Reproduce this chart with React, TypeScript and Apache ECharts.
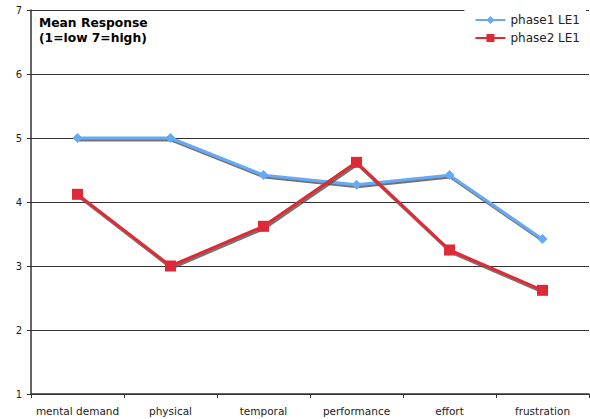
import React, { useEffect, useRef } from "react";
import * as echarts from "echarts";

const categories = ["mental demand", "physical", "temporal", "performance", "effort", "frustration"];
const phase1 = [5.0, 5.0, 4.42, 4.27, 4.42, 3.42];
const phase2 = [4.12, 3.0, 3.62, 4.62, 3.25, 2.62];
const yTicks = [1, 2, 3, 4, 5, 6, 7];

const FONT = "'DejaVu Sans', Verdana, sans-serif";

export default function App() {
  const ref = useRef<HTMLDivElement>(null);
  useEffect(() => {
    if (!ref.current) return;
    const chart = echarts.init(ref.current, null, { renderer: "svg" });
    chart.setOption({
      animation: false,
      backgroundColor: "#ffffff",
      textStyle: { fontFamily: FONT },
      title: {
        text: "Mean Response\n(1=low 7=high)",
        left: 39,
        top: 16,
        padding: 0,
        textStyle: { fontFamily: FONT, fontSize: 12.3, fontWeight: "bold", color: "#000", lineHeight: 14.5 },
      },
      legend: {
        right: 4,
        top: 10,
        orient: "vertical",
        itemGap: 6,
        itemWidth: 30,
        itemHeight: 10,
        backgroundColor: "#ffffff",
        padding: [4, 6, 4, 10],
        textStyle: { fontFamily: FONT, fontSize: 12, color: "#222" },
        data: ["phase1 LE1", "phase2 LE1"],
      },
      grid: { left: 31, right: 1, top: 10, bottom: 25, containLabel: false },
      xAxis: {
        type: "category",
        data: categories,
        boundaryGap: true,
        axisLine: { show: true, lineStyle: { color: "#333", width: 1.5 } },
        axisTick: { show: true, length: 4, alignWithLabel: false, lineStyle: { color: "#333" } },
        axisLabel: { fontFamily: FONT, fontSize: 10.5, color: "#222", margin: 11, interval: 0 },
        splitLine: { show: false },
      },
      yAxis: {
        type: "value",
        min: yTicks[0],
        max: yTicks[yTicks.length - 1],
        interval: 1,
        axisLine: { show: true, lineStyle: { color: "#333", width: 1.5 } },
        axisTick: { show: true, length: 4, lineStyle: { color: "#333" } },
        axisLabel: { fontFamily: FONT, fontSize: 10, color: "#222", margin: 9 },
        splitLine: { show: true, lineStyle: { color: "#333", width: 1 } },
      },
      series: [
        {
          name: "phase1 LE1",
          type: "line",
          data: phase1,
          symbol: "diamond",
          symbolSize: 10,
          color: "#66aaf5",
          lineStyle: {
            width: 3,
            color: "#66aaf5",
            shadowColor: "rgba(80,80,80,0.8)",
            shadowOffsetX: 1,
            shadowOffsetY: 2,
            shadowBlur: 1,
          },
          itemStyle: { color: "#66aaf5", borderWidth: 0 },
          z: 3,
        },
        {
          name: "phase2 LE1",
          type: "line",
          data: phase2,
          symbol: "rect",
          symbolSize: 11,
          color: "#dd2a36",
          lineStyle: {
            width: 3,
            color: "#dd2a36",
            shadowColor: "rgba(80,80,80,0.8)",
            shadowOffsetX: 1,
            shadowOffsetY: 2,
            shadowBlur: 1,
          },
          itemStyle: { color: "#dd2a36", borderWidth: 0 },
          z: 4,
        },
      ],
    });
    return () => chart.dispose();
  }, []);
  return <div ref={ref} style={{ width: 590, height: 419, position: "absolute", left: 0, top: 0 }} />;
}
